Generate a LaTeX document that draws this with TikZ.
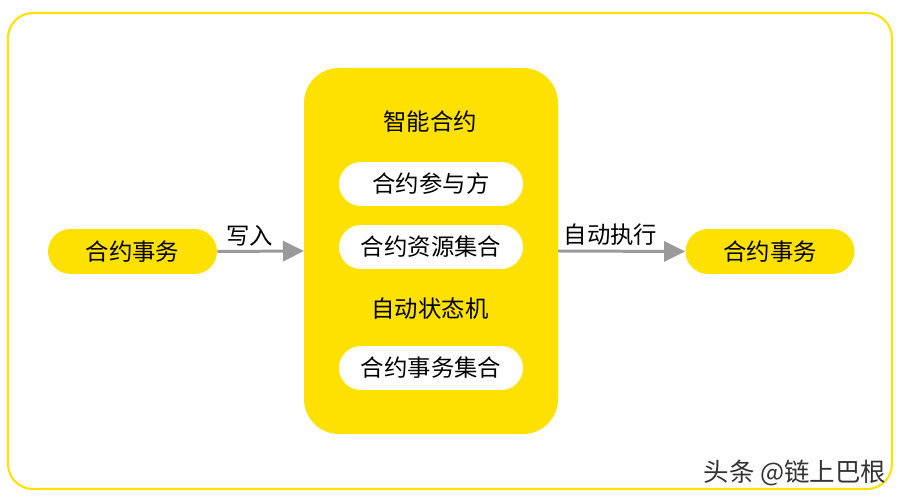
\documentclass[tikz,border=0pt]{standalone}
\usepackage{fontspec}
\newfontfamily\cjk{Noto Sans CJK SC}
\usetikzlibrary{arrows.meta}
\definecolor{gold}{HTML}{FFE100}
\definecolor{arrowgray}{HTML}{9A9A9A}
\tikzset{
	pill/.style={fill=gold, minimum width=3.38cm, minimum height=0.9cm, rounded corners=0.45cm, inner sep=0pt, font=\cjk\fontsize{13.3}{15}\selectfont},
	whitepill/.style={fill=white, minimum width=3.68cm, minimum height=0.88cm, rounded corners=0.44cm, inner sep=0pt, font=\cjk\fontsize{13.3}{15}\selectfont},
	caption/.style={font=\cjk\fontsize{13.3}{15}\selectfont, inner sep=0pt},
	flow/.style={draw=arrowgray, line width=1.7pt, -{Triangle[length=0.42cm, width=0.4cm]}}
}
\begin{document}
\begin{tikzpicture}[x=0.02cm, y=-0.02cm]
		%%%%% START %%%%%
		\useasboundingbox (0, 0) rectangle (900, 500);
		\draw[gold, line width=1.2pt, rounded corners=0.5cm] (8, 13) rectangle (892, 489);
		
		% the contract box
		\fill[gold, rounded corners=0.7cm] (304, 68) rectangle (558, 434);
		\node[caption] (title) at (430, 122) {智能合约};
		\node[whitepill] (party) at (431, 184) {合约参与方};
		\node[whitepill] (resource) at (431, 247) {合约资源集合};
		\node[caption] (machine) at (430, 309) {自动状态机};
		\node[whitepill] (txset) at (431, 368) {合约事务集合};
		\coordinate (boxw) at (304, 251);
		\coordinate (boxe) at (558, 251);
		
		% in and out
		\node[pill] (txin) at (132.5, 251.5) {合约事务};
		\node[pill] (txout) at (770, 251.5) {合约事务};
		
		\draw[flow] (txin.east) -- (boxw) node[caption, midway, above=0.08cm, xshift=-0.22cm] (write) {写入};
		\draw[flow] (boxe) -- (txout.west) node[caption, midway, above=0.08cm, xshift=-0.22cm] (auto) {自动执行};
		
		\node[caption, text=black!80, font=\cjk\fontsize{14.5}{16}\selectfont] (mark) at (795, 473) {头条 @链上巴根};
		%%%%% END %%%%%
	\end{tikzpicture}
\end{document}
